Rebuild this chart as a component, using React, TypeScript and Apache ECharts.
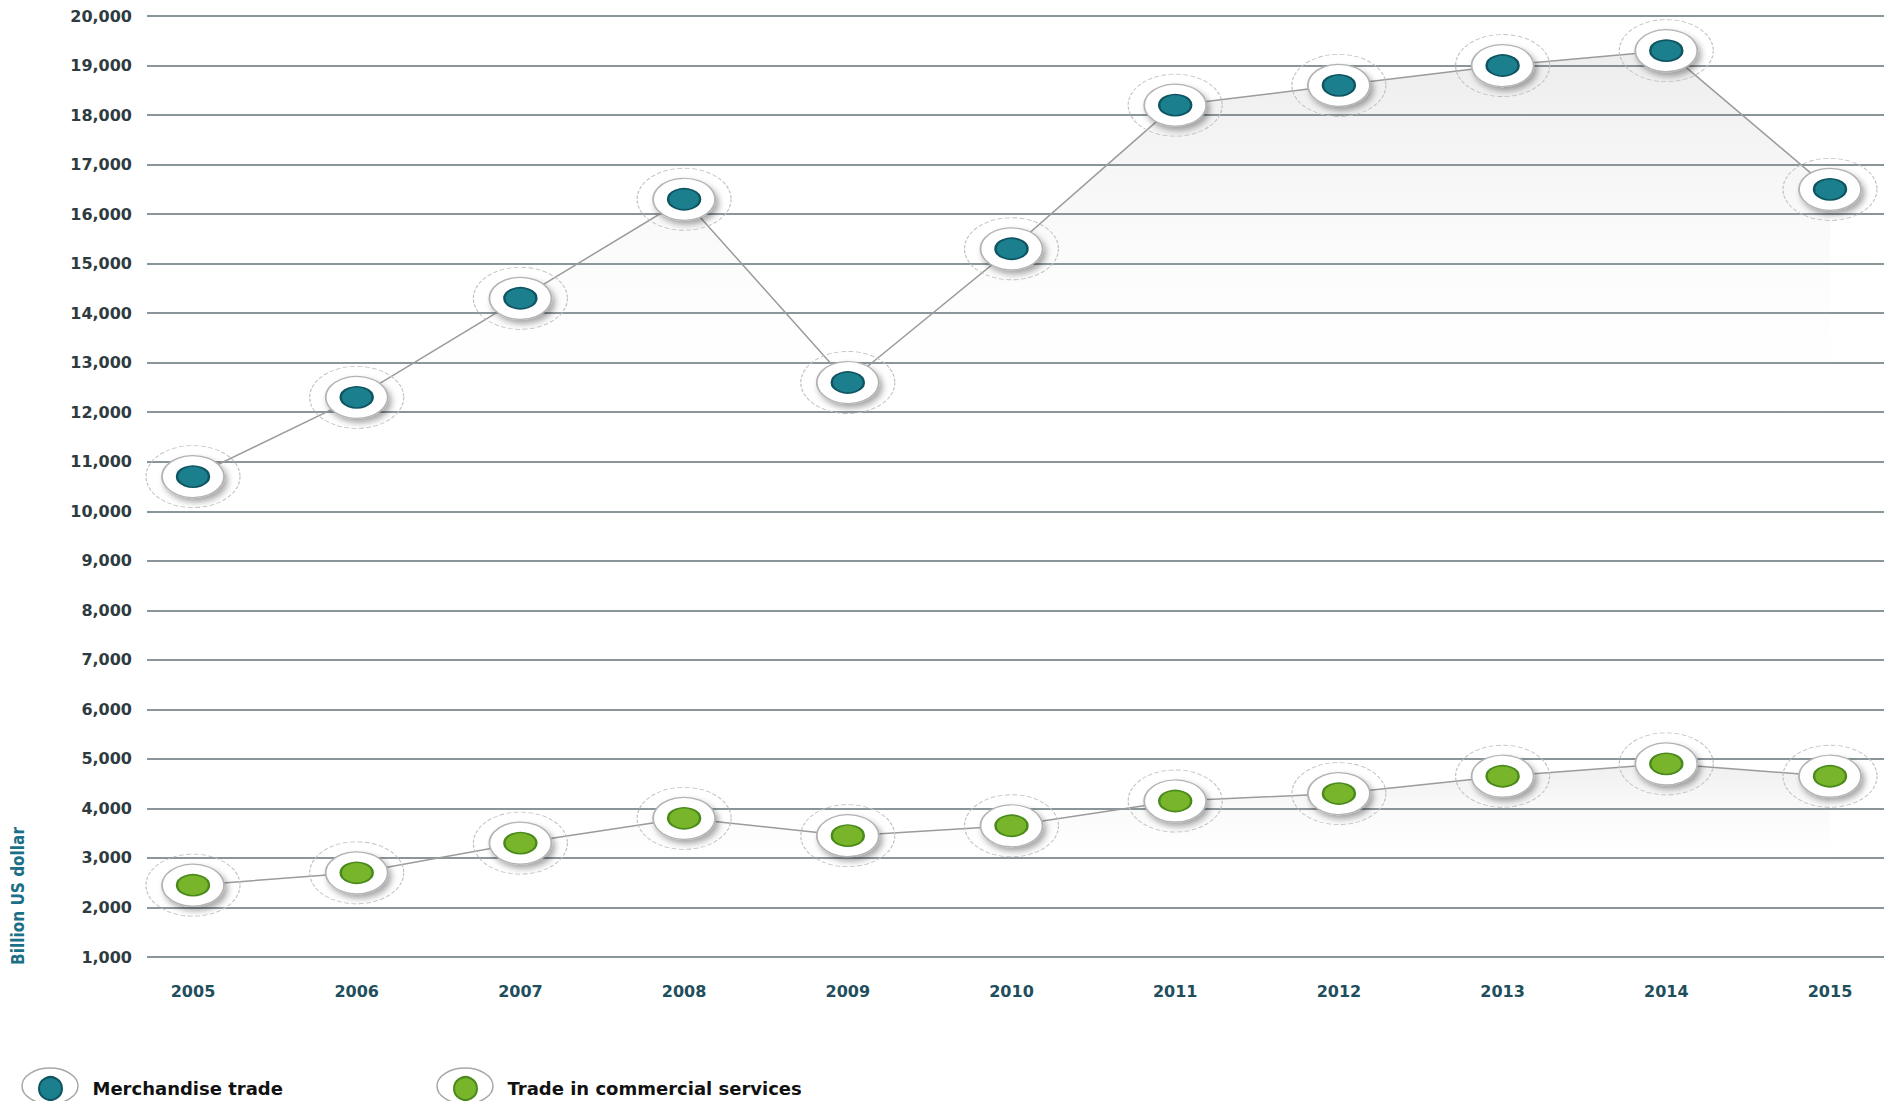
import React, { useEffect, useRef } from "react";
import * as echarts from "echarts";

const years = ["2005", "2006", "2007", "2008", "2009", "2010", "2011", "2012", "2013", "2014", "2015"];
const merchandise = [10700, 12300, 14300, 16300, 12600, 15300, 18200, 18600, 19000, 19300, 16500];
const services = [2450, 2700, 3300, 3800, 3450, 3650, 4150, 4300, 4650, 4900, 4650];
const Y_MIN = 1000;
const Y_MAX = 20000;
const Y_STEP = 1000;

const MERCH_NAME = "Merchandise trade";
const SERV_NAME = "Trade in commercial services";

function layered(prefix: string, name: string, data: number[], dot: string, dotEdge: string, areaTop: number, areaStop: number) {
  return [
    {
      name: prefix + "-line",
      type: "line",
      data,
      symbol: "none",
      silent: true,
      z: 1,
      lineStyle: { color: "#9b9b9b", width: 1.5 },
      areaStyle: {
        color: new echarts.graphic.LinearGradient(0, 0, 0, 1, [
          { offset: 0, color: `rgba(90,90,90,${areaTop})` },
          { offset: areaStop, color: "rgba(255,255,255,0)" },
          { offset: 1, color: "rgba(255,255,255,0)" },
        ]),
      },
    },
    {
      name: prefix + "-ring",
      type: "scatter",
      data,
      symbol: "circle",
      symbolSize: [94, 62],
      silent: true,
      z: 2,
      itemStyle: { color: "rgba(255,255,255,0)", borderColor: "#c2c2c2", borderType: "dashed", borderWidth: 1, opacity: 1 },
    },
    {
      name: prefix + "-disk",
      type: "scatter",
      data,
      symbol: "circle",
      symbolSize: [62, 42],
      silent: true,
      z: 3,
      itemStyle: {
        color: "#ffffff",
        opacity: 1,
        borderColor: "#b3b3b3",
        borderWidth: 1.5,
        shadowColor: "rgba(0,0,0,0.35)",
        shadowBlur: 6,
        shadowOffsetX: 3,
        shadowOffsetY: 4,
      },
    },
    {
      name,
      type: "scatter",
      data,
      symbol: "circle",
      symbolSize: [32, 21],
      z: 4,
      itemStyle: { color: dot, borderColor: dotEdge, borderWidth: 2, opacity: 1 },
    },
  ];
}

export default function App() {
  const ref = useRef<HTMLDivElement>(null);

  useEffect(() => {
    if (!ref.current) return;
    const chart = echarts.init(ref.current, null, { renderer: "svg" });
    const legendText = { fontSize: 18, fontWeight: "bold", color: "#111111", fontFamily: "DejaVu Sans", padding: [0, 0, 0, 20] };
    const legendBase = {
      top: 1071,
      icon: "circle",
      itemWidth: 34,
      itemHeight: 23,
      textStyle: legendText,
      selectedMode: false,
    };
    chart.setOption({
      animation: false,
      backgroundColor: "#ffffff",
      grid: [
        { left: 193, right: 54, top: 16, bottom: 144 },
        { left: 147, right: 0, top: 16, bottom: 144 },
      ],
      xAxis: [
        {
          type: "category",
          gridIndex: 0,
          data: years,
          boundaryGap: false,
          axisLine: { show: false },
          axisTick: { show: false },
          axisLabel: {
            margin: 26,
            fontSize: 16,
            fontWeight: "bold",
            fontFamily: "DejaVu Sans",
            color: "#214e5c",
          },
          splitLine: { show: false },
        },
        { type: "value", gridIndex: 1, show: false, min: 0, max: 1 },
      ],
      yAxis: [
        { type: "value", gridIndex: 0, min: Y_MIN, max: Y_MAX, interval: Y_STEP, show: false, splitLine: { show: false } },
        {
          type: "value",
          gridIndex: 1,
          min: Y_MIN,
          max: Y_MAX,
          interval: Y_STEP,
          axisLine: { show: false },
          axisTick: { show: false },
          axisLabel: {
            margin: 15,
            fontSize: 16,
            fontWeight: "bold",
            fontFamily: "DejaVu Sans",
            color: "#2e3b40",
            formatter: (v: number) => v.toLocaleString("en-US"),
          },
          splitLine: { show: true, lineStyle: { color: "#8a9599", width: 2 } },
        },
      ],
      legend: [
        { ...legendBase, data: [MERCH_NAME], left: 33 },
        { ...legendBase, data: [SERV_NAME], left: 448 },
      ],
      graphic: [
        {
          type: "text",
          x: 18,
          y: 896,
          rotation: Math.PI / 2,
          style: {
            text: "Billion US dollar",
            fontSize: 17,
            fontWeight: "bold",
            fontFamily: "Liberation Sans Narrow, DejaVu Sans Condensed, sans-serif",
            fill: "#1b6f86",
            align: "center",
            verticalAlign: "middle",
          },
        },
        {
          type: "ellipse",
          shape: { cx: 50, cy: 1086, rx: 28, ry: 18 },
          style: { fill: "none", stroke: "#a8a8a8", lineWidth: 1.5 },
          silent: true,
        },
        {
          type: "ellipse",
          shape: { cx: 465, cy: 1086, rx: 28, ry: 18 },
          style: { fill: "none", stroke: "#a8a8a8", lineWidth: 1.5 },
          silent: true,
        },
      ],
      series: [
        ...layered("m", MERCH_NAME, merchandise, "#1b7f8e", "#0e5461", 0.16, 0.42),
        ...layered("s", SERV_NAME, services, "#78b52a", "#4a8a1c", 0.14, 0.55),
      ],
    });
    return () => chart.dispose();
  }, []);

  return <div ref={ref} style={{ position: "absolute", left: 0, top: 0, width: 1884, height: 1101 }} />;
}
